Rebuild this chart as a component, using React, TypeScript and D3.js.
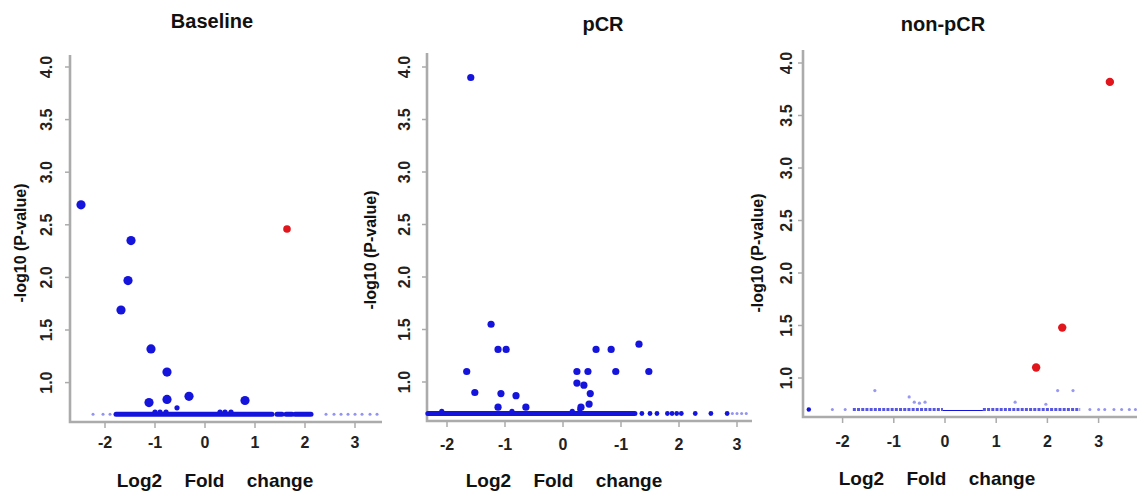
import React from "react";
import * as d3 from "d3";

// ---------- shared ticks ----------
const xTicks = [-2, -1, 0, 1, 2, 3];
const yTicks = [1.0, 1.5, 2.0, 2.5, 3.0, 3.5, 4.0];
const xTickLabelsBaseline = ["-2", "-1", "0", "1", "2", "3"];
const xTickLabelsPCR = ["-2", "-1", "0", "-1", "2", "3"];
const xTickLabelsNonPCR = ["-2", "-1", "0", "1", "2", "3"];
const titles = ["Baseline", "pCR", "non-pCR"];
const xAxisTitle = "Log2 Fold change";
const yAxisTitle = "-log10 (P-value)";

// ---------- Baseline panel: [log2FC, -log10 p] ----------
const baselineBlue = [
  [-2.48, 2.69], [-1.48, 2.35], [-1.54, 1.97], [-1.68, 1.69], [-1.08, 1.32],
  [-0.76, 1.1], [-1.12, 0.81], [-0.76, 0.84], [-0.32, 0.87], [0.8, 0.83],
];
const baselineRed = [[1.64, 2.46]];
const baselineBumps = [
  [-1.0, 0.72], [-0.9, 0.72], [-0.78, 0.72], [-0.56, 0.76], [0.3, 0.72], [0.4, 0.72], [0.52, 0.72],
];
const baselineFloor = 0.7;
const baselineBands = [[-1.78, 1.34], [1.44, 1.54], [1.62, 1.74], [1.8, 2.12]];
const baselineFaint = [-2.24, -2.04, -1.9, 2.42, 2.58, 2.72, 2.86, 3.0, 3.14, 3.3, 3.44];

// ---------- pCR panel ----------
const pcrBlue = [
  [-1.59, 3.9], [-1.24, 1.55], [-1.12, 1.31], [-0.98, 1.31], [-1.66, 1.1], [-1.52, 0.9],
  [-1.07, 0.89], [-0.81, 0.87], [-0.64, 0.76], [-1.12, 0.76], [0.24, 1.1], [0.24, 0.99],
  [0.36, 0.97], [0.43, 1.1], [0.47, 0.89], [0.45, 0.79], [0.31, 0.76], [0.57, 1.31],
  [0.83, 1.31], [0.91, 1.1], [1.31, 1.36], [1.48, 1.1],
];
const pcrBumps = [[-2.09, 0.72], [-0.88, 0.72], [0.16, 0.72], [0.29, 0.74]];
const pcrFloor = 0.7;
const pcrBands = [[-2.33, 1.24]];
const pcrDots = [1.36, 1.5, 1.62, 1.8, 1.88, 1.96, 2.04, 2.28, 2.55, 2.83];
const pcrFaint = [2.92, 3.0, 3.08, 3.16];

// ---------- non-pCR panel ----------
const nonRed = [[3.22, 3.82], [2.29, 1.48], [1.78, 1.1]];
const nonRaised = [
  [-1.37, 0.88], [-0.7, 0.82], [-0.6, 0.77], [-0.5, 0.76], [-0.39, 0.77],
  [1.37, 0.77], [1.97, 0.75], [2.2, 0.88], [2.5, 0.88],
];
const nonFloor = 0.7;
const nonBands = [[-1.8, -0.04], [0.74, 2.64]];
const nonThin = [[-0.04, 0.74]];
const nonDark = [-2.66];
const nonFaint = [-2.2, -1.95, 2.83, 3.0, 3.12, 3.3, 3.45, 3.6, 3.72];

const BLUE = "#1414dc";
const RED = "#e0161c";
const AXIS = "#ababab";
const FONT = "'Liberation Sans', Arial, Helvetica, sans-serif";

type Layout = {
  axisX: number; axisTop: number; axisBottom: number; xRight: number;
  xRange: [number, number]; yRange: [number, number];
  yTickX: number; yLabelX: number; yLabelY: number;
  titleX: number; titleY: number; xTitleX: number; xTitleY: number; xTickY: number;
};

const layouts: Layout[] = [
  { axisX: 70, axisTop: 55, axisBottom: 422, xRight: 382, xRange: [105, 355], yRange: [382.6, 67],
    yTickX: 52, yLabelX: 26, yLabelY: 243, titleX: 212, titleY: 28, xTitleX: 215, xTitleY: 487, xTickY: 448 },
  { axisX: 427, axisTop: 53, axisBottom: 421, xRight: 752, xRange: [447, 737], yRange: [382, 67],
    yTickX: 410, yLabelX: 376, yLabelY: 250, titleX: 603, titleY: 31, xTitleX: 564, xTitleY: 487, xTickY: 450 },
  { axisX: 803, axisTop: 50, axisBottom: 417, xRight: 1137, xRange: [842.6, 1098.6], yRange: [378, 63],
    yTickX: 792, yLabelX: 763, yLabelY: 253, titleX: 943, titleY: 31, xTitleX: 937, xTitleY: 485, xTickY: 447 },
];

type PanelData = {
  title: string; tickLabels: string[];
  big: number[][]; bigR: number; bigColor: string;
  extra?: number[][]; extraColor?: string;
  bumps: number[][]; bumpR: number; bumpColor: string;
  floor: number; bands: number[][]; bandW: number; bandColor: string; bandDash?: string;
  thin?: number[][];
  dots: number[]; dotR: number; dotColor: string;
  faint: number[]; faintR: number; faintColor: string;
};

const panels: PanelData[] = [
  { title: titles[0], tickLabels: xTickLabelsBaseline, big: baselineBlue, bigR: 4.6, bigColor: BLUE,
    extra: baselineRed, extraColor: RED,
    bumps: baselineBumps, bumpR: 2.6, bumpColor: BLUE,
    floor: baselineFloor, bands: baselineBands, bandW: 5, bandColor: BLUE,
    dots: [], dotR: 2.4, dotColor: BLUE,
    faint: baselineFaint, faintR: 1.5, faintColor: "rgba(40,40,230,0.5)" },
  { title: titles[1], tickLabels: xTickLabelsPCR, big: pcrBlue, bigR: 3.6, bigColor: BLUE,
    bumps: pcrBumps, bumpR: 2.6, bumpColor: BLUE,
    floor: pcrFloor, bands: pcrBands, bandW: 5, bandColor: BLUE,
    dots: pcrDots, dotR: 2.4, dotColor: BLUE,
    faint: pcrFaint, faintR: 1.5, faintColor: "rgba(40,40,230,0.5)" },
  { title: titles[2], tickLabels: xTickLabelsNonPCR, big: nonRed, bigR: 4.2, bigColor: RED,
    bumps: nonRaised, bumpR: 1.6, bumpColor: "rgba(50,50,230,0.5)",
    floor: nonFloor, bands: nonBands, bandW: 3.2, bandColor: "rgba(30,30,215,0.75)", bandDash: "3,1.2",
    thin: nonThin,
    dots: nonDark, dotR: 2.2, dotColor: BLUE,
    faint: nonFaint, faintR: 1.5, faintColor: "rgba(40,40,230,0.5)" },
];

function Panel({ d, L }: { d: PanelData; L: Layout }) {
  const x = d3.scaleLinear().domain([-2, 3]).range(L.xRange);
  const y = d3.scaleLinear().domain([1, 4]).range(L.yRange);
  const fy = y(d.floor);
  return (
    <g>
      <text x={L.titleX} y={L.titleY} textAnchor="middle" fontFamily={FONT} fontWeight="bold" fontSize={20} fill="#111">
        {d.title}
      </text>
      {/* axes */}
      <path d={`M${L.axisX},${L.axisTop}V${L.axisBottom}H${L.xRight}`} fill="none" stroke={AXIS} strokeWidth={2.6} />
      {yTicks.map((t) => (
        <g key={"yt" + t}>
          <line x1={L.axisX - 5} x2={L.axisX} y1={y(t)} y2={y(t)} stroke={AXIS} strokeWidth={1.5} />
          <text transform={`translate(${L.yTickX},${y(t)}) rotate(-90)`} textAnchor="middle" fontFamily={FONT}
            fontWeight="bold" fontSize={16} fill="#222">
            {t.toFixed(1)}
          </text>
        </g>
      ))}
      {xTicks.map((t, i) => (
        <g key={"xt" + t}>
          <line x1={x(t)} x2={x(t)} y1={L.axisBottom} y2={L.axisBottom + 6} stroke={AXIS} strokeWidth={1.5} />
          <text x={x(t)} y={L.xTickY} textAnchor="middle" fontFamily={FONT} fontWeight="bold" fontSize={16} fill="#222">
            {d.tickLabels[i]}
          </text>
        </g>
      ))}
      <text transform={`translate(${L.yLabelX},${L.yLabelY}) rotate(-90)`} textAnchor="middle" fontFamily={FONT}
        fontWeight="bold" fontSize={16} fill="#111">
        {yAxisTitle}
      </text>
      <text x={L.xTitleX} y={L.xTitleY} textAnchor="middle" fontFamily={FONT} fontWeight="bold" fontSize={19}
        wordSpacing={17} fill="#111">
        {xAxisTitle}
      </text>
      {/* floor of non-significant genes */}
      {(d.thin || []).map((b, i) => (
        <line key={"th" + i} x1={x(b[0])} x2={x(b[1])} y1={fy + 1} y2={fy + 1} stroke={BLUE} strokeWidth={1} />
      ))}
      {d.bands.map((b, i) => (
        <line key={"b" + i} x1={x(b[0])} x2={x(b[1])} y1={fy} y2={fy} stroke={d.bandColor} strokeWidth={d.bandW}
          strokeLinecap={d.bandDash ? "butt" : "round"} strokeDasharray={d.bandDash} />
      ))}
      {d.faint.map((v, i) => (
        <circle key={"f" + i} cx={x(v)} cy={fy} r={d.faintR} fill={d.faintColor} />
      ))}
      {d.dots.map((v, i) => (
        <circle key={"d" + i} cx={x(v)} cy={fy} r={d.dotR} fill={d.dotColor} />
      ))}
      {d.bumps.map((p, i) => (
        <circle key={"bu" + i} cx={x(p[0])} cy={y(p[1])} r={d.bumpR} fill={d.bumpColor} />
      ))}
      {d.big.map((p, i) => (
        <circle key={"p" + i} cx={x(p[0])} cy={y(p[1])} r={d.bigR} fill={d.bigColor} />
      ))}
      {(d.extra || []).map((p, i) => (
        <circle key={"e" + i} cx={x(p[0])} cy={y(p[1])} r={3.8} fill={d.extraColor} />
      ))}
    </g>
  );
}

export default function App() {
  return (
    <svg width={1137} height={492} viewBox="0 0 1137 492"
      style={{ position: "absolute", left: 0, top: 0, background: "#fff" }}>
      <rect width={1137} height={492} fill="#fff" />
      {panels.map((p, i) => (
        <Panel key={i} d={p} L={layouts[i]} />
      ))}
    </svg>
  );
}
